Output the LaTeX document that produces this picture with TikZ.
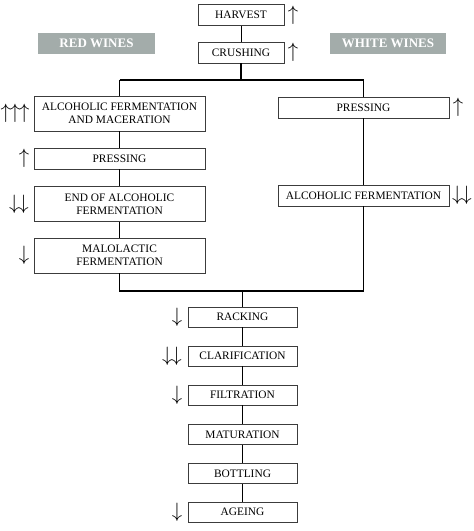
\documentclass[tikz,border=0pt]{standalone}
\usepackage{fontspec}
\setmainfont{Liberation Serif}
\usepackage{tikz}
\definecolor{labelgray}{RGB}{163,172,170}
\definecolor{boxline}{RGB}{60,60,60}

\begin{document}
\begin{tikzpicture}[x=1pt,y=-1pt, inner sep=0pt,
  stage/.style={draw=boxline, line width=0.8pt, minimum height=21pt, align=center, font=\fontsize{11.4}{13}\selectfont},
  tall/.style={stage, minimum height=35pt},
  wine/.style={fill=labelgray, text=white, minimum height=21pt, font=\fontsize{13}{14}\selectfont\bfseries},
  trend/.style={font=\fontsize{22}{22}\selectfont},
  main/.style={line width=1.6pt},
  link/.style={line width=0.8pt}]
\useasboundingbox (0,0) rectangle (474,531);
\node (harvest) at (241,15) [stage, minimum width=86pt] {HARVEST};
\node (crushing) at (241,52.5) [stage, minimum width=86pt] {CRUSHING};
\node (red) at (96.5,43.5) [wine, minimum width=117pt] {RED WINES};
\node (white) at (388,43) [wine, minimum width=116pt] {WHITE WINES};
\node (alcred) at (119.5,113.5) [tall, minimum width=171pt] {ALCOHOLIC FERMENTATION\\AND MACERATION};
\node (pressred) at (119.5,158.5) [stage, minimum width=171pt] {PRESSING};
\node (endalc) at (119.5,204) [tall, minimum width=171pt] {END OF ALCOHOLIC\\FERMENTATION};
\node (malo) at (119.5,255.5) [tall, minimum width=171pt] {MALOLACTIC\\FERMENTATION};
\node (presswhite) at (363.5,107.5) [stage, minimum width=171pt] {PRESSING};
\node (alcwhite) at (363.5,195.5) [stage, minimum width=171pt] {ALCOHOLIC FERMENTATION};
\node (racking) at (242.5,317) [stage, minimum width=109pt, minimum height=20pt] {RACKING};
\node (clar) at (242.5,356) [stage, minimum width=109pt, minimum height=20pt] {CLARIFICATION};
\node (filt) at (242.5,395) [stage, minimum width=109pt, minimum height=20pt] {FILTRATION};
\node (matur) at (242.5,434.5) [stage, minimum width=109pt, minimum height=20pt] {MATURATION};
\node (bottl) at (242.5,473.5) [stage, minimum width=109pt, minimum height=20pt] {BOTTLING};
\node (ageing) at (242.5,512) [stage, minimum width=109pt, minimum height=20pt] {AGEING};
\coordinate (splitL) at (119.5,80);
\coordinate (splitR) at (363.5,80);
\coordinate (joinL) at (119.5,291);
\coordinate (joinR) at (363.5,291);
\node (harvestup) at (293,15) [trend] {$\uparrow$};
\node (crushup) at (293,52.5) [trend] {$\uparrow$};
\node (alcredup) at (15,113.5) [trend] {$\uparrow\mkern-1mu\uparrow\mkern-1mu\uparrow$};
\node (pressredup) at (24,158.5) [trend] {$\uparrow$};
\node (endalcdown) at (19,204) [trend] {$\downarrow\mkern-1mu\downarrow$};
\node (malodown) at (24,255.5) [trend] {$\downarrow$};
\node (presswhiteup) at (458,107.5) [trend] {$\uparrow$};
\node (alcwhitedown) at (462,195.5) [trend] {$\downarrow\mkern-1mu\downarrow$};
\node (rackingdown) at (177,317) [trend] {$\downarrow$};
\node (clardown) at (172,356) [trend] {$\downarrow\mkern-1mu\downarrow$};
\node (filtdown) at (177,395) [trend] {$\downarrow$};
\node (ageingdown) at (177,512) [trend] {$\downarrow$};
\draw[link] (harvest) -- (crushing);
\draw[main] (crushing) -- (crushing |- splitL);
\draw[main] (splitL) -- (splitR);
\draw[main] (splitL) -- (alcred);
\draw[main] (splitR) -- (presswhite);
\draw[main] (alcred) -- (pressred);
\draw[link] (pressred) -- (endalc);
\draw[link] (endalc) -- (malo);
\draw[main] (presswhite) -- (alcwhite);
\draw[main] (alcwhite) -- (joinR) -- (joinL) -- (malo);
\draw[link] (racking |- joinL) -- (racking);
\draw[link] (racking) -- (clar);
\draw[link] (clar) -- (filt);
\draw[link] (filt) -- (matur);
\draw[link] (matur) -- (bottl);
\draw[link] (bottl) -- (ageing);
\end{tikzpicture}
\end{document}
